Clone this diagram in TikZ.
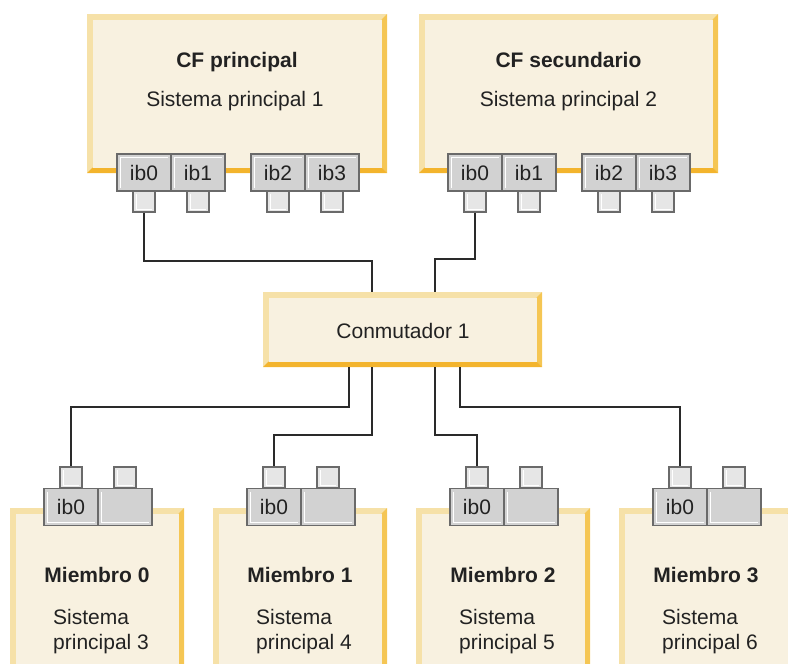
\documentclass[tikz,border=0pt]{standalone}
\usepackage{fontspec}
\setmainfont{Liberation Sans}
\definecolor{bevlight}{HTML}{F6E1A8}
\definecolor{bevright}{HTML}{F5C654}
\definecolor{bevbot}{HTML}{F3B42D}
\definecolor{bevfill}{HTML}{F8F1E0}
\definecolor{pfill}{HTML}{D2D2D2}
\definecolor{sqfill}{HTML}{E6E6E6}
\definecolor{pgray}{HTML}{6A6A6A}
\definecolor{txt}{HTML}{222222}
\definecolor{wirec}{HTML}{2A2A2A}
\newcommand\dfsz{\fontsize{21}{24}\selectfont}
\newcommand\plab[1]{\raisebox{-1.5pt}{#1}}
\begin{document}
\begin{tikzpicture}[x=1pt,y=-1pt,
  bev/.style={rectangle, inner sep=0pt, outer sep=0pt, fill=bevlight,
    path picture={
      \coordinate (ppsw) at (path picture bounding box.south west);
      \coordinate (ppne) at (path picture bounding box.north east);
      \coordinate (ppse) at (path picture bounding box.south east);
      \coordinate (ppnw) at (path picture bounding box.north west);
      \fill[bevright] (ppse) -- (ppne) -- ([xshift=-5.5pt,yshift=-5.5pt]ppne) -- ([xshift=-5.5pt,yshift=5.5pt]ppse) -- cycle;
      \fill[bevbot] (ppsw) -- (ppse) -- ([xshift=-5.5pt,yshift=5.5pt]ppse) -- ([xshift=5.5pt,yshift=5.5pt]ppsw) -- cycle;
      \fill[bevfill] ([xshift=5.5pt,yshift=5.5pt]ppsw) rectangle ([xshift=-5.5pt,yshift=-5.5pt]ppne);
    }},
  porttop/.style={rectangle, draw=pgray, line width=1.3pt, fill=pfill, inner sep=0pt,
    minimum width=54pt, minimum height=37pt, font=\dfsz, text=txt,
    path picture={\draw[white, line width=1pt]
      ([xshift=3pt,yshift=3pt]path picture bounding box.south west) |-
      ([xshift=-3pt,yshift=-3pt]path picture bounding box.north east);}},
  portbot/.style={rectangle, draw=pgray, line width=1.3pt, fill=pfill, inner sep=0pt,
    minimum width=54pt, minimum height=37pt, font=\dfsz, text=txt,
    path picture={\draw[white, line width=1pt]
      ([xshift=3pt,yshift=-3pt]path picture bounding box.north west) |-
      ([xshift=-3pt,yshift=3pt]path picture bounding box.south east);}},
  sq/.style={rectangle, draw=pgray, line width=1.3pt, fill=sqfill, inner sep=0pt,
    minimum width=22pt, minimum height=21pt,
    path picture={\draw[white, line width=0.8pt]
      ([xshift=3pt,yshift=-3pt]path picture bounding box.north west) |-
      ([xshift=-3pt,yshift=3pt]path picture bounding box.south east);}},
  title/.style={anchor=base, font=\dfsz\bfseries, text=txt, inner sep=0pt},
  sub/.style={anchor=base, font=\dfsz, text=txt, inner sep=0pt},
  subl/.style={anchor=base west, font=\dfsz, text=txt, inner sep=0pt},
  wire/.style={draw=wirec, line width=1.5pt}
]
\useasboundingbox (0,0) rectangle (788,664);
\clip (0,0) rectangle (788,664);

% main boxes
\node[bev, minimum width=300pt, minimum height=159pt] (cf1) at (237,93.5) {};
\node[bev, minimum width=299pt, minimum height=159pt] (cf2) at (568.5,93.5) {};
\node[bev, minimum width=279pt, minimum height=75pt] (sw) at (402.5,329.5) {};

\node[title] (cf1t) at (237,67) {CF principal};
\node[sub] (cf1s) at (235,106) {Sistema principal 1};
\node[title] (cf2t) at (568.5,67) {CF secundario};
\node[sub] (cf2s) at (568.5,106) {Sistema principal 2};
\node[sub] (swt) at (403,338) {Conmutador 1};

% member boxes
\foreach \i/\L in {0/10,1/213,2/416,3/619}{
  \node[bev, minimum width=174pt, minimum height=192pt] (m\i) at (\L+87,604) {};
  \node[title] (m\i t) at (\L+87,582) {Miembro \i};
  \node[subl] (m\i a) at (\L+43,624) {Sistema};
  \node[subl] (m\i b) at (\L+43,649) {principal \the\numexpr\i+3\relax};
  \node[sq] (ms\i) at (\L+61,477.5) {};
  \node[sq] (mt\i) at (\L+115,477.5) {};
  \node[portbot] (mp\i) at (\L+61,507) {\plab{ib0}};
  \node[portbot] (mq\i) at (\L+115,507) {};
}

% top ports
\foreach \k/\x in {0/144,1/198,2/278,3/332}{
  \node[sq] (sa\k) at (\x,201.5) {};
  \node[porttop] (pa\k) at (\x,172.5) {\plab{ib\k}};
}
\foreach \k/\x in {0/475,1/529,2/609,3/663}{
  \node[sq] (sb\k) at (\x,201.5) {};
  \node[porttop] (pb\k) at (\x,172.5) {\plab{ib\k}};
}

% wires
\coordinate (jt1) at (372,261);
\coordinate (jt2) at (435,259);
\draw[wire] (sa0.south) |- (jt1) -- (jt1 |- sw.north);
\draw[wire] (sb0.south) |- (jt2) -- (jt2 |- sw.north);
\coordinate (jb0) at (349,407);
\coordinate (jb1) at (372,435);
\coordinate (jb2) at (435,435);
\coordinate (jb3) at (460,407);
\draw[wire] (jb0 |- sw.south) -- (jb0) -| (ms0.north);
\draw[wire] (jb1 |- sw.south) -- (jb1) -| (ms1.north);
\draw[wire] (jb2 |- sw.south) -- (jb2) -| (ms2.north);
\draw[wire] (jb3 |- sw.south) -- (jb3) -| (ms3.north);
\end{tikzpicture}
\end{document}
